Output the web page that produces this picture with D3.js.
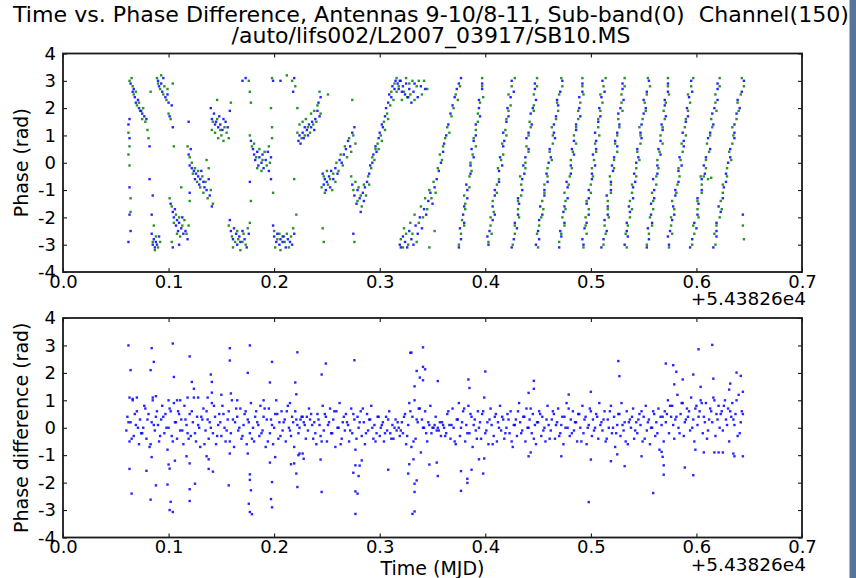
<!DOCTYPE html>
<html>
<head>
<meta charset="utf-8">
<script src="https://cdn.jsdelivr.net/npm/d3@7"></script>
<style>
  body { margin: 0; background: #fff; }
  svg text { font-family: 'DejaVu Sans', sans-serif; fill: #000; white-space: pre; }
</style>
</head>
<body>
<div class="container"></div>
<script>
const titleLines = [
  'Time vs. Phase Difference, Antennas 9-10/8-11, Sub-band(0)  Channel(150)',
  '/auto/lifs002/L2007_03917/SB10.MS'
];
const timeTicks = [0, 0.1, 0.2, 0.3, 0.4, 0.5, 0.6, 0.7];
const phaseTicks = [-4, -3, -2, -1, 0, 1, 2, 3, 4];
const timeOffset = '+5.43826e4';

// baseline 9-10 phase (rad) vs time (MJD - 54382.6)
const phase9_10 = [
  [.062,1.4],[.063,1.6],[.064,2.9],[.066,2.6],[.067,2.7],[.068,2.4],[.069,2.2],[.071,2.3],[.072,2.0],[.074,1.9],[.075,1.8],[.077,1.7],[.079,1.6],[.063,-0.9],[.062,-2.9],[.063,-1.9],[.064,-2.5],[.063,0.9],[.082,0.6],[.082,-0.6],
  [.084,-2.6],[.085,-3.0],[.086,-2.8],[.087,-3.1],[.088,-2.9],[.089,-3.0],[.091,-2.7],[.084,-1.9],[.085,-1.2],
  [.090,3.0],[.091,2.8],[.093,2.9],[.094,2.6],[.095,3.1],[.097,2.4],[.099,2.5],[.100,2.2],[.101,1.7],[.103,2.1],[.104,1.3],
  [.102,-1.5],[.104,-1.8],[.105,-2.0],[.106,-1.7],[.107,-2.3],[.108,-2.1],[.109,-2.5],[.110,-2.2],[.112,-2.4],[.113,-2.0],[.114,-2.6],[.116,-2.5],[.118,-2.8],[.104,-3.1],[.110,-3.0],
  [.119,0.3],[.120,-0.1],[.121,0.5],[.122,-0.2],[.124,-0.3],[.125,-0.6],[.126,-0.4],[.128,-0.5],[.129,-0.8],[.130,-0.6],[.131,-0.3],[.133,-0.7],[.134,-0.9],[.136,-1.0],[.138,-0.6],[.139,-1.2],[.141,-1.6],[.119,1.5],[.120,-1.1],
  [.140,2.0],[.141,1.6],[.143,1.8],[.144,1.4],[.145,1.5],[.147,1.3],[.148,1.7],[.149,1.4],[.151,1.2],[.152,1.6],[.154,1.5],[.156,1.3],[.158,1.9],
  [.158,-2.1],[.159,-2.5],[.161,-2.8],[.162,-2.4],[.164,-2.6],[.165,-3.0],[.167,-2.7],[.168,-2.9],[.170,-2.5],[.172,-2.8],[.174,-3.1],[.176,-2.6],
  [.170,3.0],[.173,3.1],[.177,-0.7],
  [.178,0.8],[.180,0.5],[.181,0.3],[.182,0.1],[.184,0.4],[.185,-0.1],[.186,0.2],[.188,0.0],[.189,0.3],[.190,-0.2],[.192,0.1],[.194,0.4],[.195,-0.3],[.197,0.2],
  [.197,-0.6],[.199,3.0],
  [.199,-2.3],[.200,-2.7],[.202,-2.9],[.203,-2.6],[.205,-3.0],[.206,-2.8],[.208,-2.9],[.209,-2.7],[.211,-3.1],[.213,-2.8],[.215,-2.9],[.217,-3.0],[.219,-2.6],
  [.206,3.0],[.218,2.6],[.219,3.1],
  [.223,0.8],[.224,1.0],[.225,0.7],[.227,1.1],[.228,0.9],[.229,1.3],[.231,1.2],[.232,1.0],[.233,1.4],[.235,1.3],[.236,1.5],[.238,1.2],[.239,1.6],[.241,1.9],[.242,2.2],[.243,1.7],[.244,2.4],
  [.246,-0.4],[.247,-0.8],[.248,-0.6],[.249,-1.0],[.250,-0.7],[.252,-0.5],[.253,-0.9],[.254,-0.3],[.256,-0.6],[.258,-0.2],[.260,-0.4],[.262,0.1],[.264,0.0],[.266,0.3],[.268,0.5],[.270,0.8],[.272,0.6],[.274,1.1],[.276,1.3],
  [.274,-0.8],[.276,-1.2],[.278,-1.5],[.279,-1.0],[.281,-1.3],[.282,-1.8],[.284,-1.1],[.285,-1.4],[.286,-0.9],[.288,-0.7],[.290,-0.4],[.291,-0.1],[.293,0.0],[.294,0.3],[.296,0.6],[.297,0.4],[.299,0.9],[.300,1.1],[.302,1.4],[.303,1.3],[.305,1.7],[.306,2.0],[.308,2.2],[.309,2.5],[.311,2.4],[.312,2.8],[.314,2.7],[.315,3.0],[.275,-2.6],
  [.317,2.9],[.318,2.7],[.319,3.0],[.321,2.6],[.322,2.8],[.324,2.5],[.325,2.9],[.327,2.4],[.328,2.7],[.330,2.2],[.332,2.6],[.333,2.9],[.336,2.4],[.339,2.8],[.343,2.7],
  [.319,-3.0],[.320,-3.1],[.322,-2.7],[.324,-2.9],[.326,-3.1],[.328,-2.5],[.330,-2.8],[.332,-3.0],[.334,-2.3],[.336,-2.6],[.338,-2.0],[.340,-2.4],[.342,-1.7],[.344,-1.9],[.346,-1.4],[.348,-1.1],[.350,-1.5],[.352,-0.9],[.354,-0.6],[.356,-0.3],[.358,0.0],[.360,0.4],[.361,0.7],[.363,1.0],[.365,1.4],[.367,1.8],[.369,2.1],[.371,2.4],[.373,2.7],[.375,2.9],[.377,3.1],
  [.375,-3.1],[.377,-2.8],[.376,-2.4],[.380,-2.2],[.379,-1.9],[.380,-1.6],[.383,-1.3],[.383,-1.0],[.382,-0.8],[.386,-0.4],[.386,-0.1],[.389,0.2],[.387,0.5],[.389,0.8],[.391,1.0],[.391,1.4],[.395,1.7],[.394,2.0],[.394,2.3],[.397,2.7],[.397,2.9],
  [.403,-3.0],[.402,-2.7],[.404,-2.5],[.407,-2.1],[.409,-1.9],[.407,-1.6],[.409,-1.2],[.409,-1.0],[.413,-0.7],[.413,-0.3],[.416,-0.1],[.414,0.2],[.417,0.6],[.418,0.8],[.417,1.1],[.420,1.5],[.422,1.7],[.421,2.0],[.424,2.4],[.427,2.6],[.425,3.0],
  [.425,-3.1],[.427,-2.8],[.430,-2.4],[.428,-2.2],[.431,-1.9],[.432,-1.5],[.431,-1.3],[.435,-1.0],[.435,-0.6],[.437,-0.4],[.436,-0.1],[.438,0.2],[.441,0.5],[.439,0.9],[.441,1.1],[.444,1.4],[.443,1.8],[.445,2.0],[.448,2.3],[.447,2.7],[.447,2.9],
  [.448,-3.0],[.451,-2.8],[.450,-2.5],[.451,-2.1],[.454,-1.9],[.452,-1.6],[.456,-1.2],[.456,-1.0],[.459,-0.7],[.458,-0.4],[.460,0.0],[.462,0.2],[.461,0.5],[.466,0.9],[.465,1.1],[.465,1.4],[.467,1.7],[.469,2.1],[.468,2.3],[.471,2.6],[.473,3.0],
  [.470,-3.1],[.472,-2.7],[.471,-2.5],[.475,-2.2],[.474,-1.8],[.475,-1.6],[.478,-1.3],[.478,-0.9],[.477,-0.7],[.481,-0.4],[.481,-0.1],[.484,0.3],[.482,0.5],[.484,0.8],[.486,1.2],[.486,1.4],[.490,1.7],[.489,2.0],[.489,2.4],[.492,2.6],[.492,2.9],
  [.493,-3.0],[.492,-2.8],[.494,-2.4],[.496,-2.2],[.498,-1.9],[.496,-1.5],[.498,-1.3],[.498,-1.0],[.501,-0.6],[.501,-0.4],[.504,-0.1],[.502,0.3],[.505,0.5],[.505,0.8],[.504,1.1],[.507,1.5],[.509,1.7],[.508,2.0],[.510,2.4],[.513,2.6],[.511,3.0],
  [.510,-3.1],[.512,-2.8],[.515,-2.5],[.513,-2.1],[.516,-1.9],[.516,-1.6],[.515,-1.2],[.519,-1.0],[.519,-0.7],[.521,-0.3],[.520,-0.1],[.522,0.2],[.525,0.6],[.523,0.8],[.525,1.1],[.527,1.4],[.526,1.8],[.528,2.0],[.531,2.3],[.530,2.7],[.530,2.9],
  [.532,-3.0],[.535,-2.7],[.534,-2.5],[.534,-2.2],[.537,-1.8],[.536,-1.6],[.540,-1.3],[.540,-0.9],[.542,-0.7],[.541,-0.4],[.543,0.0],[.545,0.2],[.544,0.5],[.548,0.9],[.547,1.1],[.548,1.4],[.550,1.8],[.552,2.0],[.550,2.3],[.553,2.6],[.555,3.0],
  [.553,-3.1],[.555,-2.8],[.554,-2.4],[.558,-2.2],[.557,-1.9],[.557,-1.5],[.560,-1.3],[.560,-1.0],[.559,-0.6],[.563,-0.4],[.563,-0.1],[.566,0.3],[.564,0.5],[.566,0.8],[.568,1.2],[.567,1.4],[.571,1.7],[.570,2.1],[.570,2.3],[.573,2.6],[.573,2.9],
  [.574,-3.0],[.573,-2.7],[.575,-2.5],[.577,-2.1],[.579,-1.9],[.578,-1.6],[.580,-1.2],[.580,-1.0],[.583,-0.7],[.583,-0.3],[.586,-0.1],[.584,0.2],[.588,0.6],[.588,0.8],[.587,1.1],[.590,1.5],[.592,1.7],[.591,2.0],[.593,2.4],[.596,2.6],[.595,3.0],
  [.594,-3.1],[.596,-2.8],[.600,-2.4],[.598,-2.2],[.601,-1.9],[.602,-1.5],[.601,-1.3],[.605,-1.0],[.605,-0.6],[.608,-0.4],[.607,-0.1],[.609,0.2],[.613,0.5],[.611,0.9],[.613,1.1],[.616,1.4],[.615,1.8],[.617,2.0],[.620,2.3],[.620,2.7],[.620,2.9],
  [.616,-3.1],[.619,-2.7],[.619,-2.5],[.619,-2.2],[.623,-1.8],[.621,-1.6],[.625,-1.3],[.626,-0.9],[.628,-0.7],[.628,-0.4],[.630,0.0],[.632,0.2],[.632,0.5],[.636,0.9],[.636,1.1],[.636,1.4],[.638,1.8],[.641,2.0],[.639,2.3],[.643,2.6],[.645,3.0],
  [.644,-1.9]
];

// baseline 8-11 phase (rad) vs time (MJD - 54382.6)
const phase8_11 = [
  [.063,3.0],[.065,3.1],[.066,2.8],[.067,2.5],[.069,2.6],[.070,2.1],[.072,2.2],[.073,1.9],[.075,1.6],[.076,2.0],[.078,1.5],[.062,1.1],[.063,0.6],[.062,0.3],[.063,-0.1],[.064,-1.3],[.064,-1.8],[.080,1.2],[.081,0.9],[.083,2.6],
  [.085,-2.9],[.087,-3.2],[.088,-2.7],[.090,-3.1],[.092,-2.9],[.086,-2.3],
  [.089,3.1],[.090,2.9],[.092,2.7],[.093,3.2],[.095,2.5],[.096,2.8],[.098,2.3],[.099,2.7],[.100,1.8],[.102,1.6],[.104,2.9],[.105,0.6],
  [.101,-1.3],[.103,-1.6],[.105,-2.2],[.107,-1.9],[.108,-2.6],[.110,-2.0],[.111,-2.7],[.113,-2.3],[.115,-2.1],[.117,-2.6],[.119,-2.3],[.103,-2.9],[.112,-0.9],
  [.118,0.6],[.120,0.2],[.122,0.0],[.123,-0.4],[.125,-0.2],[.127,-0.7],[.128,-0.3],[.130,-0.9],[.132,-0.5],[.133,-1.1],[.135,-0.7],[.137,-1.3],[.138,-0.2],[.140,-1.0],[.142,-1.5],[.136,0.1],[.120,-1.4],
  [.141,1.2],[.142,1.5],[.144,1.1],[.146,1.6],[.147,0.9],[.149,1.2],[.150,1.0],[.152,0.8],[.153,1.3],[.155,1.1],[.157,0.9],[.159,2.2],[.146,2.3],
  [.157,-2.3],[.160,-2.7],[.161,-3.1],[.163,-2.9],[.165,-2.5],[.166,-2.8],[.168,-3.2],[.170,-2.9],[.171,-2.6],[.173,-3.0],[.175,-2.4],[.177,-2.2],
  [.176,3.0],[.177,2.6],[.178,2.2],[.178,-1.4],
  [.177,1.0],[.179,0.6],[.181,0.7],[.183,0.2],[.184,-0.2],[.186,0.5],[.188,-0.3],[.189,0.1],[.191,0.4],[.193,-0.1],[.195,0.6],[.196,0.0],[.198,0.9],
  [.197,2.0],[.198,1.3],[.199,-1.1],[.198,3.1],
  [.200,-2.5],[.201,-3.1],[.203,-2.8],[.205,-2.6],[.206,-3.2],[.208,-2.7],[.210,-2.9],[.212,-2.6],[.214,-3.1],[.216,-2.7],[.218,-2.4],[.221,-1.9],
  [.212,3.2],[.217,3.0],[.220,2.8],[.219,-0.6],
  [.222,1.1],[.224,1.4],[.226,0.9],[.227,1.5],[.229,1.0],[.230,1.6],[.232,1.3],[.234,1.1],[.235,1.8],[.237,1.4],[.238,1.9],[.240,1.5],[.241,2.1],[.243,2.6],[.244,1.8],[.222,2.0],
  [.245,-0.9],[.247,-0.5],[.248,-1.1],[.250,-0.3],[.251,-0.8],[.253,-0.6],[.255,-1.0],[.256,-0.4],[.258,-0.7],[.259,0.0],[.261,-0.3],[.263,0.3],[.265,-0.1],[.267,0.6],[.269,0.2],[.271,0.9],[.273,0.4],[.275,1.0],[.277,0.7],[.246,-2.4],[.247,-2.9],[.251,2.5],
  [.273,-0.5],[.275,-1.0],[.277,-0.7],[.279,-1.4],[.280,-0.9],[.282,-1.2],[.283,-1.6],[.285,-0.8],[.287,-1.2],[.289,-0.5],[.290,-0.8],[.292,-0.2],[.293,0.2],[.295,0.1],[.296,0.5],[.298,0.7],[.299,0.5],[.301,1.0],[.302,0.8],[.304,1.5],[.305,1.2],[.307,1.8],[.308,1.6],[.310,2.1],[.311,2.6],[.313,2.3],[.314,2.9],[.316,2.6],[.274,2.3],[.276,-2.9],
  [.316,3.1],[.318,2.8],[.320,3.0],[.321,2.3],[.323,2.6],[.325,3.1],[.326,2.4],[.328,2.9],[.329,2.5],[.331,3.0],[.333,2.3],[.335,2.8],[.337,3.0],[.340,2.5],[.342,3.0],[.345,2.7],
  [.320,-2.8],[.322,-3.1],[.323,-2.4],[.325,-2.6],[.327,-3.0],[.329,-2.2],[.331,-2.6],[.333,-1.9],[.335,-2.9],[.337,-2.2],[.339,-1.6],[.341,-2.0],[.343,-1.3],[.345,-1.7],[.347,-1.0],[.349,-1.3],[.351,-0.7],[.353,-1.1],[.355,-0.2],[.357,0.3],[.359,0.1],[.360,0.6],[.362,0.9],[.364,1.3],[.366,1.1],[.368,1.7],[.370,2.0],[.372,2.5],[.374,2.3],[.376,2.8],[.352,-2.5],[.347,-3.1],
  [.375,-3.0],[.377,-2.6],[.380,-2.3],[.378,-2.1],[.381,-1.7],[.381,-1.5],[.380,-1.2],[.385,-0.9],[.385,-0.5],[.387,-0.3],[.386,0.0],[.388,0.3],[.391,0.6],[.389,0.9],[.391,1.2],[.393,1.5],[.393,1.8],[.395,2.2],[.398,2.4],[.397,2.8],[.397,3.1],
  [.403,-2.9],[.406,-2.6],[.405,-2.3],[.405,-2.0],[.408,-1.8],[.407,-1.4],[.411,-1.1],[.411,-0.8],[.413,-0.6],[.412,-0.2],[.415,0.1],[.417,0.3],[.416,0.7],[.420,1.0],[.419,1.2],[.420,1.6],[.422,1.9],[.424,2.1],[.422,2.5],[.425,2.8],[.428,3.1],
  [.426,-3.0],[.428,-2.6],[.428,-2.3],[.432,-2.0],[.431,-1.7],[.431,-1.4],[.434,-1.2],[.434,-0.8],[.433,-0.5],[.438,-0.2],[.438,0.0],[.441,0.4],[.439,0.6],[.441,1.0],[.443,1.3],[.442,1.5],[.446,1.9],[.446,2.1],[.446,2.5],[.449,2.8],[.449,3.1],
  [.450,-3.1],[.449,-2.6],[.451,-2.3],[.453,-2.0],[.455,-1.7],[.454,-1.4],[.456,-1.1],[.456,-0.8],[.459,-0.5],[.459,-0.2],[.463,0.1],[.461,0.4],[.464,0.7],[.464,1.0],[.463,1.3],[.467,1.6],[.469,1.9],[.468,2.2],[.470,2.5],[.473,2.8],[.472,3.1],
  [.470,-2.9],[.472,-2.6],[.475,-2.3],[.473,-2.0],[.476,-1.7],[.476,-1.4],[.475,-1.1],[.479,-0.8],[.480,-0.5],[.482,-0.2],[.481,0.1],[.483,0.4],[.486,0.7],[.484,1.0],[.486,1.3],[.488,1.6],[.488,1.9],[.490,2.2],[.493,2.5],[.492,2.8],[.492,3.1],
  [.493,-3.1],[.496,-2.6],[.495,-2.3],[.495,-2.0],[.498,-1.7],[.496,-1.4],[.500,-1.1],[.500,-0.8],[.502,-0.5],[.501,-0.2],[.503,0.1],[.505,0.4],[.504,0.7],[.508,1.0],[.507,1.3],[.507,1.6],[.509,1.9],[.511,2.2],[.509,2.5],[.512,2.8],[.514,3.1],
  [.512,-3.0],[.514,-2.6],[.513,-2.3],[.517,-2.0],[.516,-1.7],[.516,-1.4],[.519,-1.1],[.519,-0.8],[.518,-0.5],[.522,-0.2],[.522,0.1],[.525,0.4],[.523,0.7],[.525,1.0],[.527,1.3],[.526,1.6],[.530,1.9],[.529,2.2],[.529,2.5],[.532,2.8],[.532,3.1],
  [.534,-3.1],[.533,-2.6],[.535,-2.3],[.537,-2.0],[.539,-1.7],[.537,-1.4],[.539,-1.1],[.539,-0.8],[.543,-0.5],[.543,-0.2],[.546,0.1],[.544,0.4],[.547,0.7],[.547,1.0],[.546,1.3],[.549,1.6],[.552,1.9],[.551,2.2],[.553,2.5],[.556,2.8],[.554,3.1],
  [.553,-3.0],[.555,-2.6],[.558,-2.3],[.556,-2.0],[.559,-1.7],[.559,-1.4],[.558,-1.1],[.562,-0.8],[.562,-0.5],[.564,-0.2],[.563,0.1],[.565,0.4],[.568,0.7],[.566,1.0],[.568,1.3],[.570,1.6],[.569,1.9],[.571,2.2],[.574,2.5],[.573,2.8],[.573,3.1],
  [.574,-3.1],[.577,-2.6],[.576,-2.3],[.576,-2.0],[.579,-1.7],[.577,-1.4],[.581,-1.1],[.582,-0.8],[.584,-0.5],[.583,-0.2],[.585,0.1],[.587,0.4],[.586,0.7],[.590,1.0],[.589,1.3],[.590,1.6],[.592,1.9],[.594,2.2],[.592,2.5],[.595,2.8],[.597,3.1],
  [.596,-3.0],[.598,-2.6],[.597,-2.3],[.602,-2.0],[.601,-1.7],[.601,-1.4],[.605,-1.1],[.605,-0.8],[.604,-0.5],[.609,-0.2],[.609,0.1],[.612,0.4],[.610,0.7],[.613,1.0],[.615,1.3],[.614,1.6],[.619,1.9],[.618,2.2],[.618,2.5],[.622,2.8],[.622,3.1],
  [.607,-0.5],[.611,-0.6],[.614,-0.55],
  [.618,-3.0],[.617,-2.6],[.619,-2.3],[.622,-2.0],[.624,-1.7],[.623,-1.4],[.625,-1.1],[.625,-0.8],[.629,-0.5],[.629,-0.2],[.633,0.1],[.631,0.4],[.634,0.7],[.635,1.0],[.634,1.3],[.638,1.6],[.640,1.9],[.639,2.2],[.642,2.5],[.645,2.8],[.643,3.1],
  [.644,-2.3],[.645,-2.8]
];

// phase difference (rad) vs time, dense band
const diffBand = [
  [.060,-0.1],[.061,0.4],[.063,-0.5],[.064,0.2],[.066,1.0],[.067,-0.3],[.069,0.1],[.070,0.6],[.072,-0.6],[.073,0.3],
  [.075,-0.2],[.076,0.0],[.078,0.7],[.079,-0.4],[.081,0.5],[.082,-0.7],[.084,0.2],[.085,1.0],[.087,-0.1],[.088,0.4],
  [.090,0.1],[.091,-0.5],[.093,0.3],[.094,0.8],[.096,-0.2],[.097,0.5],[.099,-0.8],[.100,0.0],[.102,0.6],[.103,-0.3],
  [.105,0.9],[.106,0.2],[.108,-0.4],[.109,0.6],[.111,-0.1],[.112,0.3],[.114,-0.6],[.115,0.8],[.117,0.1],[.118,-0.2],
  [.120,0.5],[.121,-0.3],[.123,0.2],[.124,1.1],[.126,-0.5],[.127,0.4],[.129,0.0],[.130,-0.7],[.132,0.3],[.133,0.7],
  [.135,-0.1],[.136,0.6],[.138,-0.4],[.139,0.2],[.141,0.9],[.142,-0.2],[.144,0.4],[.145,-0.6],[.147,0.1],[.148,0.5],
  [.150,-0.3],[.151,0.8],[.153,0.0],[.154,-0.5],[.156,0.3],[.157,0.6],[.159,-0.2],[.160,1.0],[.162,-0.7],[.163,0.2],
  [.165,0.4],[.166,-0.1],[.168,0.7],[.169,-0.4],[.171,0.1],[.172,0.5],[.174,-0.6],[.175,0.3],[.177,-0.2],[.178,0.9],
  [.180,0.0],[.181,-0.5],[.183,0.6],[.184,0.2],[.186,-0.3],[.187,0.8],[.189,-0.1],[.190,0.4],[.192,-0.7],[.193,0.3],
  [.195,0.7],[.196,-0.2],[.198,0.1],[.199,-0.6],[.201,0.5],[.202,1.0],[.204,-0.4],[.205,0.2],[.207,0.6],[.208,-0.1],
  [.210,0.3],[.211,-0.5],[.213,0.8],[.214,0.0],[.216,-0.3],[.217,0.4],[.219,-0.7],[.220,0.6],[.222,0.1],[.223,-0.2],
  [.225,0.3],[.226,0.4],[.228,0.2],[.229,0.1],[.231,0.4],[.232,-0.1],[.234,0.3],[.235,0.5],[.237,-0.4],[.238,0.2],
  [.240,-0.6],[.241,0.5],[.243,0.1],[.244,-0.3],[.246,0.8],[.247,-0.1],[.249,0.4],[.250,-0.5],[.252,0.2],[.253,0.7],
  [.255,-0.2],[.256,0.3],[.258,-0.7],[.259,0.6],[.261,0.0],[.262,0.9],[.264,-0.4],[.265,0.2],[.267,-0.1],[.268,0.5],
  [.270,0.1],[.271,-0.5],[.273,0.7],[.274,-0.2],[.276,0.3],[.277,-0.8],[.279,0.4],[.280,0.0],[.282,0.6],[.283,-0.3],
  [.285,0.2],[.286,-0.6],[.288,0.5],[.289,-0.1],[.291,0.3],[.292,0.8],[.294,-0.4],[.295,0.1],[.297,-0.2],[.298,0.4],
  [.300,-0.3],[.301,0.0],[.303,0.2],[.304,-0.5],[.306,0.4],[.307,-0.1],[.309,0.6],[.310,-0.2],[.312,0.1],[.313,-0.4],
  [.315,0.3],[.316,-0.1],[.318,0.0],[.319,-0.3],[.321,0.2],[.322,-0.2],[.324,0.5],[.325,-0.6],[.327,0.1],[.328,0.9],
  [.330,-0.7],[.331,0.4],[.333,1.0],[.334,-0.4],[.336,0.2],[.337,0.7],[.339,-0.9],[.340,0.3],[.342,0.0],[.343,0.6],
  [.345,-0.5],[.346,0.2],[.348,0.8],[.349,-0.2],[.351,0.0],[.352,0.1],[.354,-0.1],[.355,0.0],[.357,0.2],[.358,-0.3],
  [.360,0.1],[.361,0.0],[.363,-0.2],[.364,0.5],[.366,0.1],[.367,-0.4],[.369,0.7],[.370,0.0],[.372,-0.6],[.373,0.3],
  [.375,0.9],[.376,-0.3],[.378,0.2],[.379,0.6],[.381,-0.5],[.382,0.1],[.384,0.8],[.385,-0.2],[.387,0.4],[.388,-0.7],
  [.390,0.3],[.391,-0.1],[.393,0.6],[.394,0.0],[.396,-0.4],[.397,0.5],[.399,1.1],[.400,-0.2],[.402,0.2],[.403,-0.6],
  [.405,0.7],[.406,0.1],[.408,-0.3],[.409,0.4],[.411,-0.5],[.412,0.2],[.414,0.8],[.415,-0.1],[.417,0.3],[.418,-0.4],
  [.420,0.0],[.421,0.5],[.423,-0.2],[.424,0.6],[.426,-0.7],[.427,0.1],[.429,0.3],[.430,-0.3],[.432,0.9],[.433,0.2],
  [.435,-0.1],[.436,0.4],[.438,-0.5],[.439,0.7],[.441,0.0],[.442,0.3],[.444,-0.2],[.445,0.5],[.447,0.1],[.448,-0.6],
  [.450,0.2],[.451,0.6],[.453,-0.3],[.454,0.4],[.456,0.0],[.457,-0.5],[.459,0.8],[.460,0.1],[.462,-0.1],[.463,0.3],
  [.465,0.5],[.466,-0.4],[.468,0.2],[.469,0.7],[.471,-0.2],[.472,0.1],[.474,-0.6],[.475,0.4],[.477,0.9],[.478,0.0],
  [.480,-0.3],[.481,0.3],[.483,0.6],[.484,-0.1],[.486,0.2],[.487,-0.5],[.489,0.5],[.490,0.0],[.492,0.8],[.493,-0.2],
  [.495,0.4],[.496,-0.6],[.498,0.1],[.499,0.7],[.501,-0.3],[.502,0.3],[.504,0.0],[.505,0.5],[.507,-0.4],[.508,0.9],
  [.510,0.2],[.511,-0.1],[.513,0.6],[.514,-0.5],[.516,0.3],[.517,0.0],[.519,0.8],[.520,-0.2],[.522,0.4],[.523,-0.7],
  [.525,0.1],[.526,0.5],[.528,-0.3],[.529,0.9],[.531,-0.1],[.532,0.2],[.534,0.6],[.535,-0.6],[.537,0.3],[.538,0.0],
  [.540,0.7],[.541,-0.4],[.543,0.2],[.544,-0.2],[.546,0.5],[.547,0.1],[.549,-0.5],[.550,0.4],[.552,0.8],[.553,-0.1],
  [.555,0.3],[.556,-0.6],[.558,0.0],[.559,0.6],[.561,-0.3],[.562,0.2],[.564,0.7],[.565,-0.8],[.567,0.1],[.568,0.4],
  [.570,0.6],[.571,0.2],[.573,1.0],[.574,-0.2],[.576,0.4],[.577,0.8],[.579,-0.4],[.580,0.3],[.582,1.2],[.583,0.0],
  [.585,0.5],[.586,0.9],[.588,-0.3],[.589,0.2],[.591,0.7],[.592,0.4],[.594,-0.1],[.595,1.1],[.597,0.3],[.598,-0.5],
  [.600,0.8],[.601,0.1],[.603,0.6],[.604,1.0],[.606,-0.2],[.607,0.4],[.609,0.9],[.610,-0.4],[.612,0.3],[.613,0.7],
  [.615,0.2],[.616,1.1],[.618,-0.3],[.619,0.5],[.621,0.8],[.622,0.0],[.624,0.6],[.625,-0.1],[.627,1.0],[.628,0.3],
  [.630,0.7],[.631,-0.5],[.633,0.4],[.634,0.9],[.636,0.1],[.637,0.5],[.639,-0.3],[.640,1.2],[.642,0.2],[.643,0.6],
  [.062,0.2],[.065,-0.4],[.068,0.5],[.071,0.0],[.074,-0.2],[.077,0.8],[.080,0.3],[.083,-0.6],[.086,0.1],[.089,0.6],
  [.092,-0.3],[.095,0.4],[.098,0.0],[.101,0.7],[.104,-0.5],[.107,0.2],[.110,0.5],[.113,-0.1],[.116,0.3],[.119,-0.4],
  [.122,0.6],[.125,-0.2],[.128,0.1],[.131,0.4],[.134,-0.6],[.137,0.3],[.140,0.0],[.143,0.8],[.146,-0.3],[.149,0.2],
  [.152,0.5],[.155,-0.1],[.158,-0.5],[.161,0.3],[.164,0.7],[.167,0.0],[.170,-0.3],[.173,0.6],[.176,0.2],[.179,-0.4],
  [.182,0.4],[.185,0.1],[.188,-0.2],[.191,0.7],[.194,-0.5],[.197,0.3],[.200,0.0],[.203,0.5],[.206,-0.3],[.209,0.2],
  [.212,0.6],[.215,-0.1],[.218,0.2],[.221,0.3],[.224,0.0],[.227,0.4],[.230,-0.4],[.233,0.7],[.236,0.1],[.239,-0.2],
  [.242,0.3],[.245,-0.5],[.248,0.5],[.251,0.1],[.254,-0.2],[.257,0.6],[.260,0.0],[.263,-0.6],[.266,0.4],[.269,0.2],
  [.272,-0.1],[.275,0.5],[.278,-0.4],[.281,0.2],[.284,0.7],[.287,-0.2],[.290,0.3],[.293,0.0],[.296,-0.5],[.299,0.4],
  [.302,0.1],[.305,-0.2],[.308,0.3],[.311,-0.4],[.314,0.0],[.317,0.2],[.320,-0.1],[.323,0.4],[.326,-0.3],[.329,0.6],
  [.332,-0.5],[.335,0.3],[.338,0.7],[.341,0.0],[.344,-0.2],[.347,0.1],[.350,0.0],[.353,0.4],[.356,-0.1],[.359,0.2],
  [.362,-0.3],[.365,0.6],[.368,0.1],[.371,-0.5],[.374,0.3],[.377,0.0],[.380,0.7],[.383,-0.2],[.386,0.5],[.389,0.1],
  [.392,-0.4],[.395,0.2],[.398,0.6],[.401,-0.1],[.404,0.3],[.407,-0.6],[.410,0.5],[.413,0.0],[.416,0.4],[.419,-0.2],
  [.422,0.3],[.425,-0.5],[.428,0.1],[.431,0.6],[.434,-0.2],[.437,0.4],[.440,0.0],[.443,0.7],[.446,-0.4],[.449,0.2],
  [.452,0.5],[.455,-0.1],[.458,0.3],[.461,-0.4],[.464,0.6],[.467,0.1],[.470,-0.3],[.473,0.4],[.476,0.0],[.479,0.7],
  [.482,-0.2],[.485,0.2],[.488,0.5],[.491,-0.5],[.494,0.3],[.497,0.0],[.500,0.6],[.503,-0.1],[.506,0.4],[.509,0.1],
  [.512,0.3],[.515,-0.4],[.518,0.6],[.521,0.0],[.524,-0.2],[.527,0.5],[.530,0.1],[.533,-0.5],[.536,0.2],[.539,0.4],
  [.542,-0.1],[.545,0.3],[.548,0.6],[.551,-0.4],[.554,0.2],[.557,0.0],[.560,0.5],[.563,-0.2],[.566,0.4],[.569,-0.5],
  [.572,0.5],[.575,0.8],[.578,0.1],[.581,0.4],[.584,-0.2],[.587,0.9],[.590,0.3],[.593,0.6],[.596,0.0],[.599,0.7],
  [.602,0.4],[.605,0.9],[.608,0.2],[.611,-0.1],[.614,0.6],[.617,1.0],[.620,0.3],[.623,0.5],[.626,0.8],[.629,0.1],
  [.632,0.6],[.635,0.3],[.638,1.0],[.641,-0.2],[.644,0.5]
];

// phase difference outliers
const diffOutliers = [
  [.062,3.0],[.064,2.1],[.084,2.9],[.086,2.4],[.083,2.1],[.104,3.07],[.105,1.85],[.120,2.6],[.122,1.67],[.124,1.42],
  [.140,1.94],[.141,1.67],[.141,1.28],[.158,2.9],[.158,2.45],[.159,1.25],[.177,3.0],[.175,2.0],[.198,2.4],[.196,1.65],
  [.222,2.75],[.220,1.65],[.221,1.22],[.249,2.34],[.245,1.94],[.276,2.46],[.329,2.73],[.330,2.74],[.341,2.93],[.335,2.07],
  [.341,2.22],[.343,2.13],[.338,1.83],[.341,1.73],[.333,1.51],[.400,2.05],[.355,1.7],[.384,1.76],[.385,1.45],[.446,1.71],
  [.446,1.42],[.441,1.27],[.526,2.43],[.527,1.88],[.571,2.34],[.578,2.28],[.581,2.04],[.587,1.76],[.579,1.58],[.602,2.86],
  [.615,3.02],[.597,1.94],[.616,1.79],[.638,2.01],[.642,1.89],[.632,1.61],[.631,1.39],[.644,1.31],[.604,1.49],[.500,1.31],
  [.479,1.21],[.063,1.1],[.066,1.05],[.070,1.1],[.085,1.1],[.088,1.15],[.100,1.0],[.108,1.0],[.111,1.0],[.118,1.1],
  [.128,1.1],[.137,1.1],[.150,1.2],[.165,1.0],[.190,1.0],[.215,0.9],
  [.063,-1.5],[.065,-2.4],[.079,-1.57],[.083,-2.62],[.084,-1.07],[.088,-2.1],[.099,-2.07],[.100,-1.34],[.101,-1.49],[.102,-2.7],
  [.101,-3.0],[.104,-3.07],[.106,-1.2],[.117,-1.04],[.120,-1.3],[.120,-2.24],[.120,-2.67],[.125,-2.04],[.136,-1.04],[.138,-1.15],
  [.138,-1.5],[.142,-1.6],[.157,-2.1],[.158,-0.94],[.175,-0.94],[.177,-1.7],[.177,-1.9],[.178,-2.28],[.176,-2.77],[.177,-3.07],
  [.179,-3.15],[.196,-1.27],[.198,-1.98],[.197,-2.6],[.198,-2.9],[.201,-1.07],[.216,-1.33],[.219,-1.3],[.221,-1.67],[.222,-2.16],
  [.223,-1.0],[.224,-0.94],[.245,-2.34],[.277,-2.32],[.279,-2.4],[.277,-3.14],[.275,-1.64],[.280,-1.76],[.281,-1.38],[.277,-1.37],
  [.283,-1.19],[.308,-1.53],[.328,-1.33],[.327,-1.67],[.333,-2.04],[.335,-1.92],[.332,-1.15],[.333,-2.34],[.331,-3.14],[.333,-3.05],
  [.347,-1.34],[.354,-1.27],[.355,-1.76],[.377,-1.58],[.383,-1.86],[.387,-1.53],[.383,-2.01],[.377,-2.3],[.398,-1.67],[.394,-1.15],
  [.399,-1.12],[.441,-1.04],[.443,-0.9],[.244,-1.16],[.228,-1.13],[.227,-0.94],[.498,-2.71],[.559,-2.38],[.569,-1.71],[.569,-1.37],
  [.597,-1.73],[.589,-1.45],[.532,-1.4],[.519,-1.22],[.525,-0.97],[.548,-1.04],[.500,-1.16],[.472,-1.04],[.568,-1.06],[.567,-0.88],
  [.607,-0.9],[.617,-0.9],[.621,-0.9],[.625,-0.9],[.635,-0.94],[.636,-1.04],[.644,-1.04],[.599,-0.8]
];

const W = 856, H = 578;
const left = 63, right = 802;

const svg = d3.select('.container')
  .append('svg')
  .attr('width', W)
  .attr('height', H);

svg.append('rect').attr('width', W).attr('height', H).attr('fill', '#fff');

// window edge strip on the right
svg.append('rect').attr('x', 849).attr('y', 0).attr('width', 1).attr('height', H).attr('fill', '#a9bace');
svg.append('rect').attr('x', 850).attr('y', 0).attr('width', 6).attr('height', H).attr('fill', '#56749c');

svg.append('text')
  .attr('x', 431).attr('y', 22)
  .attr('text-anchor', 'middle')
  .attr('textLength', 836)
  .attr('lengthAdjust', 'spacingAndGlyphs')
  .style('font-size', '22px')
  .text(titleLines[0]);
svg.append('text')
  .attr('x', 431).attr('y', 43)
  .attr('text-anchor', 'middle')
  .style('font-size', '22px')
  .text(titleLines[1]);

const xScale = d3.scaleLinear().domain([0, 0.7]).range([left, right]);

const fmtPhase = (d) => (d < 0 ? '-' + Math.abs(d) : String(d));

function drawPanel(top, bottom, yLabel, series, xLabel) {
  const yScale = d3.scaleLinear().domain([-4, 4]).range([bottom, top]);
  const g = svg.append('g');

  series.forEach((s) => {
    g.append('g')
      .selectAll('rect')
      .data(s.data)
      .enter()
      .append('rect')
      .attr('x', (d) => xScale(d[0]) - 1.2)
      .attr('y', (d) => yScale(d[1]) - 1.2)
      .attr('width', 2.4)
      .attr('height', 2.4)
      .attr('fill', s.color)
      .attr('opacity', 0.85);
  });

  const xAxis = d3.axisBottom(xScale).tickValues(timeTicks).tickSize(-4).tickPadding(3)
    .tickFormat(d3.format('.1f'));
  const xAxisTop = d3.axisTop(xScale).tickValues(timeTicks).tickSize(-4).tickFormat('');
  const yAxis = d3.axisLeft(yScale).tickValues(phaseTicks).tickSize(-4).tickPadding(7)
    .tickFormat(fmtPhase);
  const yAxisRight = d3.axisRight(yScale).tickValues(phaseTicks).tickSize(-4).tickFormat('');

  const axes = [
    g.append('g').attr('transform', 'translate(0,' + bottom + ')').call(xAxis),
    g.append('g').attr('transform', 'translate(0,' + top + ')').call(xAxisTop),
    g.append('g').attr('transform', 'translate(' + left + ',0)').call(yAxis),
    g.append('g').attr('transform', 'translate(' + right + ',0)').call(yAxisRight)
  ];
  axes.forEach((a) => {
    a.select('.domain').remove();
    a.selectAll('.tick line').attr('stroke', '#000').attr('stroke-width', 1);
    a.selectAll('.tick text').style('font-size', '18px').style('font-family', "'DejaVu Sans', sans-serif").attr('fill', '#000');
  });

  g.append('rect')
    .attr('x', left).attr('y', top)
    .attr('width', right - left).attr('height', bottom - top)
    .attr('fill', 'none')
    .attr('stroke', '#1a1a1a')
    .attr('stroke-width', 1.8);

  g.append('text')
    .attr('transform', 'rotate(-90)')
    .attr('x', -(top + bottom) / 2)
    .attr('y', 28)
    .attr('text-anchor', 'middle')
    .style('font-size', '19px')
    .text(yLabel);

  g.append('text')
    .attr('x', right + 4)
    .attr('y', bottom + 33)
    .attr('text-anchor', 'end')
    .style('font-size', '18.5px')
    .text(timeOffset);

  if (xLabel) {
    g.append('text')
      .attr('x', (left + right) / 2)
      .attr('y', bottom + 37)
      .attr('text-anchor', 'middle')
      .style('font-size', '19px')
      .text(xLabel);
  }
}

drawPanel(53.5, 272, 'Phase (rad)', [
  { data: phase8_11, color: '#008000' },
  { data: phase9_10, color: '#0000ff' }
]);

drawPanel(318, 537.5, 'Phase difference (rad)', [
  { data: diffBand.concat(diffOutliers), color: '#0000ff' }
], 'Time (MJD)');
</script>
</body>
</html>
